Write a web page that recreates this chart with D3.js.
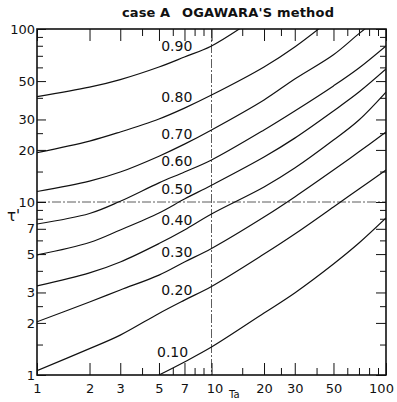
<!DOCTYPE html>
<html>
<head>
<meta charset="utf-8">
<script src="https://cdn.jsdelivr.net/npm/d3@7"></script>
<style>
  body { margin: 0; background: #fff; }
  text { font-family: "DejaVu Sans", sans-serif; fill: #111; }
</style>
</head>
<body>
<script>
const taGrid = [1, 2, 3, 5, 7, 10, 20, 30, 50, 70, 100];

// tau' for each parameter value (null = outside the chart)
const curveNames = ["0.90", "0.80", "0.70", "0.60", "0.50", "0.40", "0.30", "0.20", "0.10"];
const tau90 = [40.6, 46.1, 51.0, 60.3, 68.9, 79.8, 125, null, null, null, null];
const tau80 = [19.3, 22.5, 25.4, 30.2, 34.9, 41.5, 60.3, 78.7, 117, null, null];
const tau70 = [11.5, 13.2, 14.9, 18.4, 21.6, 26.1, 38.9, 51.4, 71, 94, 125];
const tau60 = [7.46, 8.58, 10.1, 12.9, 14.9, 17.5, 26.1, 33.6, 46.9, 59.5, 79.8];
const tau50 = [4.94, 5.83, 6.89, 8.64, 10.4, 12.5, 18.2, 23.4, 33.6, 43.2, 58.7];
const tau40 = [3.27, 3.89, 4.50, 5.75, 6.89, 8.52, 12.2, 15.7, 22.8, 29.8, 43.2];
const tau30 = [2.03, 2.64, 3.10, 3.78, 4.50, 5.39, 8.19, 10.7, 15.3, 19.5, 25.4];
const tau20 = [1.06, 1.42, 1.70, 2.27, 2.71, 3.25, 5.00, 6.53, 9.36, 11.9, 15.3];
const tau10 = [null, null, null, 1.0, 1.19, 1.45, 2.28, 2.98, 4.38, 5.79, 8.08];
const tauSeries = [tau90, tau80, tau70, tau60, tau50, tau40, tau30, tau20, tau10];

// axis ticks
const xLabelTicks = [1, 2, 3, 5, 7, 10, 20, 30, 50, 100];
const xMinorTicks = [4, 6, 8, 9, 15, 25, 40, 60, 70, 80, 90];
const yLabelTicks = [1, 2, 3, 5, 7, 10, 20, 30, 50, 100];
const yMinorTicks = [1.5, 2.5, 4, 6, 8, 9, 15, 25, 40, 60, 70, 80, 90];

const w = 397, h = 402;
const pLeft = 37, pRight = 386, pTop = 29, pBottom = 375;

const svg = d3.select("body").append("svg")
  .attr("width", w).attr("height", h);

const x = d3.scaleLog().domain([1, 100]).range([pLeft, pRight]);
const y = d3.scaleLog().domain([1, 100]).range([pBottom, pTop]);

// title
svg.append("text").attr("x", 122).attr("y", 17)
  .attr("font-size", 13).attr("font-weight", "bold")
  .attr("textLength", 48).text("case A");
svg.append("text").attr("x", 182).attr("y", 17)
  .attr("font-size", 13).attr("font-weight", "bold")
  .attr("textLength", 152).text("OGAWARA'S method");

svg.append("clipPath").attr("id", "plot")
  .append("rect").attr("x", pLeft).attr("y", pTop)
  .attr("width", pRight - pLeft).attr("height", pBottom - pTop);

// dash-dot guide lines at Ta = 10 and tau' = 10
svg.append("line")
  .attr("x1", x(10)).attr("x2", x(10)).attr("y1", pTop).attr("y2", pBottom)
  .attr("stroke", "#333").attr("stroke-width", 0.8)
  .attr("stroke-dasharray", "9,2,2,2");
svg.append("line")
  .attr("x1", pLeft).attr("x2", pRight).attr("y1", y(10)).attr("y2", y(10))
  .attr("stroke", "#333").attr("stroke-width", 0.8)
  .attr("stroke-dasharray", "9,2,2,2");

// axes with inward ticks
function styleAxis(g) {
  g.select(".domain").remove();
  g.selectAll(".tick line").attr("stroke", "#111").attr("stroke-width", 1);
  g.selectAll(".tick text").attr("font-size", 13).attr("fill", "#111")
    .attr("font-family", "DejaVu Sans, sans-serif");
}
const fmt = d3.format("d");

svg.append("g").attr("transform", `translate(0,${pBottom})`)
  .call(d3.axisBottom(x).tickValues(xLabelTicks).tickFormat(fmt).tickSize(-12).tickPadding(9))
  .call(styleAxis)
  .selectAll(".tick text").attr("dx", d => d == 100 ? "-5" : (d == 10 ? "3" : "0"));
svg.append("g").attr("transform", `translate(0,${pBottom})`)
  .call(d3.axisBottom(x).tickValues(xMinorTicks).tickFormat("").tickSize(-7))
  .call(styleAxis);
svg.append("g").attr("transform", `translate(0,${pTop})`)
  .call(d3.axisTop(x).tickValues(xLabelTicks).tickFormat("").tickSize(-12))
  .call(styleAxis);
svg.append("g").attr("transform", `translate(0,${pTop})`)
  .call(d3.axisTop(x).tickValues(xMinorTicks).tickFormat("").tickSize(-7))
  .call(styleAxis);

svg.append("g").attr("transform", `translate(${pLeft},0)`)
  .call(d3.axisLeft(y).tickValues(yLabelTicks).tickFormat(fmt).tickSize(-9).tickPadding(2))
  .call(styleAxis);
svg.append("g").attr("transform", `translate(${pLeft},0)`)
  .call(d3.axisLeft(y).tickValues(yMinorTicks).tickFormat("").tickSize(-6))
  .call(styleAxis);
svg.append("g").attr("transform", `translate(${pRight},0)`)
  .call(d3.axisRight(y).tickValues(yLabelTicks).tickFormat("").tickSize(-10))
  .call(styleAxis);
svg.append("g").attr("transform", `translate(${pRight},0)`)
  .call(d3.axisRight(y).tickValues(yMinorTicks).tickFormat("").tickSize(-6))
  .call(styleAxis);

// frame
svg.append("rect")
  .attr("x", pLeft).attr("y", pTop)
  .attr("width", pRight - pLeft).attr("height", pBottom - pTop)
  .attr("fill", "none").attr("stroke", "#111").attr("stroke-width", 1.6);

// curves
const line = d3.line()
  .defined(d => d[1] != null)
  .x(d => x(d[0])).y(d => y(d[1]))
  .curve(d3.curveCatmullRom.alpha(0.5));

const curves = curveNames.map((name, i) => ({
  name: name,
  points: taGrid.map((t, j) => [t, tauSeries[i][j]])
}));

svg.append("g").attr("clip-path", "url(#plot)")
  .selectAll("path").data(curves).join("path")
  .attr("d", d => line(d.points))
  .attr("fill", "none").attr("stroke", "#111").attr("stroke-width", 1.2);

// tau' at a given Ta, interpolated in log space along the read points
function tauAt(points, t) {
  const p = points.filter(d => d[1] != null);
  for (let k = 0; k < p.length - 1; k++) {
    if (t >= p[k][0] && t <= p[k + 1][0]) {
      const f = (Math.log(t) - Math.log(p[k][0])) / (Math.log(p[k + 1][0]) - Math.log(p[k][0]));
      return Math.exp(Math.log(p[k][1]) + f * (Math.log(p[k + 1][1]) - Math.log(p[k][1])));
    }
  }
  return p[0][1];
}

svg.selectAll("text.curve-label").data(curves).join("text")
  .attr("class", "curve-label")
  .attr("x", d => d.name == "0.10" ? x(5) - 2 : x(5.15))
  .attr("y", d => y(tauAt(d.points, 6)) - 11)
  .attr("font-size", 14)
  .text(d => d.name);

// axis titles
svg.append("text").attr("x", 7).attr("y", 221)
  .attr("font-size", 15).text("τ'");
svg.append("text").attr("x", 229).attr("y", 398)
  .attr("font-size", 10).text("Ta");
</script>
</body>
</html>
